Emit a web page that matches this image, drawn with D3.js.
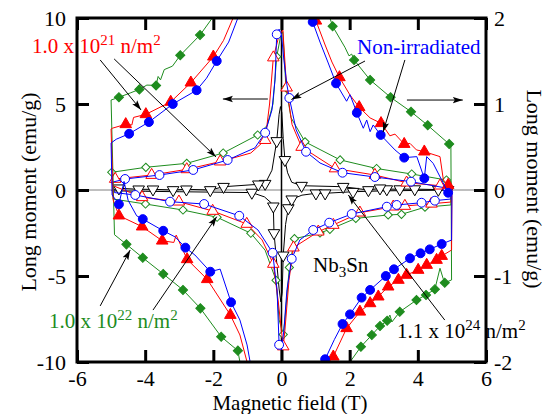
<!DOCTYPE html>
<html>
<head>
<meta charset="utf-8">
<script src="https://cdn.jsdelivr.net/npm/d3@7"></script>
<style>
  body { margin: 0; background: #fff; }
  text { font-family: "Liberation Serif", "Times New Roman", serif; }
</style>
</head>
<body>
<script>
// Hysteresis loops of Nb3Sn.
// Each point is [field (T), moment, marker?]; points are in sweep order.
// Filled-marker loops use the left axis (emu/g, +-10).
const blueFilled = [
  [5.0,-0.3,0],[4.89,-0.16,1],[4.45,1.55,0],[4.26,1.94,0],[4.19,0.68,1],[3.97,1.94,0],[3.60,1.88,1],
  [3.33,2.33,0],[2.91,3.20,1],[2.69,3.78,0],[2.60,3.39,0],[2.50,4.07,0],[2.40,3.59,0],[2.21,4.49,1],
  [2.16,4.77,0],[2.01,5.54,0],[1.91,5.16,0],[1.60,6.20,1],[1.36,7.44,0],[1.13,8.6,0],[0.915,9.77,1],
  [0.75,11.5,0],
  [-1.1,11.5,0],[-1.28,10,0],[-1.55,8.6,0],[-1.90,7.50,1],[-2.2,6.5,0],[-2.49,5.80,1],[-3.19,5.0,1],
  [-3.89,3.95,1],[-4.47,3.27,1],[-4.85,2.95,0],[-5.0,2.73,0],
  [-4.97,-0.29,0],[-4.77,-0.83,1],[-4.62,0.5,0],[-4.5,-0.6,0],[-4.25,-1.5,0],[-4.07,-1.69,1],
  [-3.47,-2.37,1],[-3.12,-2.73,0],[-2.82,-3.35,1],[-2.54,-3.78,0],[-2.09,-4.75,1],[-1.80,-4.6,0],
  [-1.48,-6.53,1],[-1.22,-7.56,0],[-1.01,-9.01,0],[-0.92,-10,0],[-0.85,-11.5,0],
  [1.15,-11.5,0],[1.19,-10,0],[1.28,-9.84,1],[1.55,-8.7,0],[1.79,-7.79,1],[2.01,-7.23,1],[2.35,-6.26,1],
  [2.60,-5.81,1],[3.06,-5.0,1],[3.30,-4.61,1],[3.77,-3.97,1],[4.08,-3.68,1],[4.35,-3.45,1],
  [4.70,-3.14,1],[4.99,-2.91,0],[5.0,-0.3,0]
];
const redFilled = [
  [5.0,0.17,0],[4.89,0.29,1],[4.75,0.58,0],[4.65,1.94,0],[4.19,2.23,1],[3.96,2.33,0],[3.77,2.71,0],
  [3.60,2.67,1],[3.33,3.25,0],[3.18,3.15,0],[3.06,3.5,0],[2.92,3.88,1],[2.60,4.19,0],[2.28,4.81,1],
  [2.01,5.52,0],[1.70,6.55,1],[1.48,7.44,0],[1.28,8.43,0],[1.01,9.84,1],[0.88,11.5,0],
  [-1.25,11.5,0],[-1.42,10,0],[-1.7,8.7,0],[-2.0,7.75,1],[-2.66,6.24,1],[-3.25,5.12,1],[-3.98,4.40,1],
  [-4.34,4.22,0],[-4.39,3.78,0],[-4.57,3.82,1],[-4.95,3.6,0],[-5.0,3.55,0],
  [-4.94,-0.58,0],[-4.77,-1.49,1],[-4.09,-2.13,1],[-3.50,-2.95,1],[-3.16,-3.05,0],[-3.09,-2.62,0],
  [-2.77,-4.03,1],[-2.18,-5.19,1],[-1.50,-7.27,1],[-1.22,-8.43,0],[-1.01,-10,0],[-0.9,-11.5,0],
  [1.3,-11.5,0],[1.39,-10,0],[1.52,-9.69,1],[1.91,-8.04,1],[2.30,-7.08,1],[2.60,-6.59,1],[2.84,-6.20,1],
  [3.13,-5.62,1],[3.43,-5.23,1],[3.67,-4.94,1],[4.01,-4.65,1],[4.26,-4.36,1],[4.55,-4.07,1],
  [4.70,-3.84,1],[4.99,-3.49,0],[5.0,0.17,0]
];
const greenFilled = [
  [4.97,2.56,0],[4.92,2.67,1],[4.29,3.76,1],[3.80,4.55,1],[3.20,5.39,1],[2.60,6.40,1],[2.13,7.56,1],
  [2.06,7.9,0],[1.98,7.8,0],[1.86,8.3,0],[1.50,9.52,1],[1.42,10,0],[1.25,11.5,0],
  [-1.75,11.5,0],[-2.03,10,0],[-2.39,9.01,1],[-2.97,7.83,1],[-3.2,7.2,0],[-3.44,7.0,0],[-3.55,6.4,0],
  [-3.62,6.6,0],[-3.68,6.08,1],[-3.95,6.1,0],[-4.17,5.85,1],[-4.44,5.64,0],[-4.77,5.39,1],[-5.0,5.23,0],
  [-4.9,-2.6,0],[-4.55,-3.16,1],[-4.07,-3.94,1],[-3.47,-4.88,1],[-2.89,-5.81,1],[-2.38,-6.88,1],
  [-1.77,-8.53,1],[-1.28,-9.34,1],[-1.22,-10,0],[-1.1,-11.5,0],
  [1.85,-11.5,0],[2.01,-10,0],[2.33,-9.11,1],[2.65,-8.43,1],[2.89,-7.91,1],[3.10,-7.6,1],[3.18,-7.27,0],
  [3.24,-7.67,0],[3.47,-7.08,1],[3.96,-6.40,1],[4.24,-6.10,1],[4.50,-5.77,1],[4.65,-4.55,0],
  [4.74,-5.13,0],[4.79,-5.39,1],[4.99,-5.23,0],[4.97,2.56,0]
];
// Open-marker loops use the right axis (+-2).
const blueOpen = [
  [4.97,0.01,0],[4.87,0.02,1],[3.80,0.097,1],[2.74,0.151,1],[1.79,0.201,1],[1.13,0.314,0],[0.72,0.445,1],
  [0.43,0.70,0],[0.23,1.07,1],[0.16,1.22,0],[0.07,1.51,0],[0.0,1.80,0],[-0.07,1.87,0],[-0.14,1.81,1],
  [-0.19,1.28,0],[-0.28,0.93,0],[-0.48,0.666,1],[-0.78,0.49,0],[-1.58,0.349,1],[-2.59,0.233,1],
  [-3.58,0.174,1],[-4.59,0.128,1],[-4.97,0.09,0],
  [-4.9,-0.03,0],[-4.29,-0.058,1],[-3.27,-0.136,1],[-2.27,-0.163,1],[-1.24,-0.30,1],[-0.69,-0.465,0],
  [-0.26,-0.73,1],[-0.13,-1.16,0],[-0.07,-1.80,1],[0.0,-1.86,0],[0.07,-1.63,0],[0.16,-1.16,0],
  [0.30,-0.80,1],[0.54,-0.58,0],[0.93,-0.465,1],[1.40,-0.38,1],[2.06,-0.279,1],[3.09,-0.194,1],
  [3.38,-0.174,1],[4.11,-0.148,1],[4.50,-0.124,1],[4.97,-0.105,0],[4.97,0.01,0]
];
const redOpen = [
  [4.97,0.04,0],[4.65,0.05,1],[3.67,0.085,1],[2.74,0.174,1],[1.57,0.25,1],[0.59,0.50,1],[0.31,0.76,0],
  [0.15,1.19,1],[0.04,1.86,0],[-0.07,1.80,0],[-0.24,1.54,1],[-0.35,1.0,0],[-0.48,0.58,1],[-0.9,0.43,0],
  [-1.80,0.33,1],[-2.78,0.24,1],[-3.81,0.174,1],[-4.88,0.128,1],[-4.97,0.12,0],
  [-4.94,0.05,0],[-4.09,-0.085,1],[-3.01,-0.136,1],[-2.02,-0.244,1],[-1.02,-0.395,1],[-0.57,-0.58,0],
  [-0.24,-0.86,1],[-0.10,-1.28,0],[0.05,-1.82,1],[0.10,-1.63,0],[0.22,-1.05,0],[0.35,-0.67,1],
  [1.08,-0.485,1],[1.52,-0.407,1],[2.30,-0.264,1],[3.28,-0.194,1],[3.62,-0.186,1],[4.4,-0.16,1],
  [4.97,-0.14,0],[4.97,0.04,0]
];
const greenOpen = [
  [4.97,0.10,0],[4.84,0.116,1],[3.82,0.186,1],[2.79,0.25,1],[1.72,0.35,1],[0.69,0.56,1],[0.28,0.84,0],
  [0.13,1.19,1],[0.04,1.84,0],[-0.03,1.78,0],[-0.14,1.55,1],[-0.25,1.0,0],[-0.42,0.75,0],[-0.70,0.64,1],
  [-1.71,0.43,1],[-2.78,0.31,1],[-3.98,0.264,1],[-4.98,0.206,1],
  [-4.94,-0.105,0],[-3.99,-0.163,1],[-2.89,-0.233,1],[-1.89,-0.317,1],[-0.90,-0.503,1],[-0.48,-0.70,0],
  [-0.16,-1.05,1],[-0.07,-1.51,0],[0.05,-1.68,1],[0.10,-1.51,0],[0.23,-0.90,1],[0.38,-0.566,1],
  [1.13,-0.50,1],[1.42,-0.457,1],[2.18,-0.33,1],[3.13,-0.29,1],[3.52,-0.283,1],[4.21,-0.20,1],
  [4.97,-0.174,0],[4.97,0.10,0]
];
const blackOpen = [
  [4.97,0.0,0],[4.89,0.0,1],[4.6,0.005,1],[3.91,0.01,1],[3.47,0.01,1],[3.09,0.01,1],[2.89,0.02,1],
  [2.55,0.0,1],[1.81,0.038,1],[0.59,0.05,1],[0.3,0.09,0],[0.18,0.2,0],[0.10,0.35,1],[0.05,0.6,0],
  [0.01,0.9,0],[-0.03,0.97,0],[-0.07,0.88,0],[-0.14,0.57,1],[-0.28,0.23,0],[-0.48,0.073,1],
  [-0.68,0.066,1],[-1.70,0.038,1],[-2.09,0.0,1],[-2.79,0.008,1],[-3.18,0.0,1],[-3.77,0.008,1],
  [-4.19,0.008,1],[-4.77,0.02,1],[-4.97,0.0,0],
  [-4.97,-0.01,0],[-4.0,-0.015,0],[-3.0,-0.02,0],[-2.0,-0.025,0],[-0.87,-0.03,1],[-0.5,-0.08,0],
  [-0.3,-0.15,0],[-0.24,-0.19,1],[-0.22,-0.5,1],[-0.15,-0.8,0],[-0.07,-1.15,0],[-0.02,-1.3,0],
  [0.02,-1.2,0],[0.05,-0.76,1],[0.12,-0.4,0],[0.2,-0.21,1],[0.3,-0.108,1],[0.6,-0.06,0],
  [1.01,-0.038,1],[1.28,-0.038,1],[2.1,-0.02,1],[3.0,-0.01,0],[4.0,-0.005,0],[4.97,0.0,0]
];

const xTicks = [-6, -4, -2, 0, 2, 4, 6];
const yLeftTicks = [-10, -5, 0, 5, 10];
const yRightTicks = [-2, -1, 0, 1, 2];

const blue = '#0000ff', red = '#ff0000', green = '#1e8c1e';

const W = 548, H = 414;
const box = { left: 77, right: 486, top: 18, bottom: 362 };

const svg = d3.select('body').append('svg')
  .attr('width', W).attr('height', H)
  .attr('font-family', '"Liberation Serif", "Times New Roman", serif');

const x = d3.scaleLinear().domain([-6, 6]).range([box.left, box.right]);
const yL = d3.scaleLinear().domain([-10, 10]).range([box.bottom, box.top]);
const yR = d3.scaleLinear().domain([-2, 2]).range([box.bottom, box.top]);

const defs = svg.append('defs');
defs.append('clipPath').attr('id', 'plot')
  .append('rect').attr('x', box.left).attr('y', box.top)
  .attr('width', box.right - box.left).attr('height', box.bottom - box.top);

defs.append('marker')
  .attr('id', 'head').attr('markerUnits', 'userSpaceOnUse')
  .attr('markerWidth', 11).attr('markerHeight', 8)
  .attr('refX', 10).attr('refY', 4).attr('orient', 'auto')
  .append('path').attr('d', 'M0,0.8 L10,4 L0,7.2 L2,4 Z').attr('fill', '#000');

// zero lines
svg.append('line')
  .attr('x1', box.left).attr('x2', box.right).attr('y1', yL(0)).attr('y2', yL(0))
  .attr('stroke', '#808080').attr('stroke-width', 1.2);
svg.append('line')
  .attr('x1', x(0)).attr('x2', x(0)).attr('y1', box.top).attr('y2', box.bottom)
  .attr('stroke', '#000').attr('stroke-width', 1.5);

const series = [
  { data: blackOpen, y: yR, color: '#000', shape: 'triDown', filled: false },
  { data: greenOpen, y: yR, color: green, shape: 'diamond', filled: false },
  { data: redOpen, y: yR, color: red, shape: 'triUp', filled: false },
  { data: blueOpen, y: yR, color: blue, shape: 'circle', filled: false },
  { data: greenFilled, y: yL, color: green, shape: 'diamond', filled: true },
  { data: redFilled, y: yL, color: red, shape: 'triUp', filled: true },
  { data: blueFilled, y: yL, color: blue, shape: 'circle', filled: true },
];

const shapes = {
  circle: { type: d3.symbolCircle, size: 62, rot: 0 },
  triUp: { type: d3.symbolTriangle, size: 58, rot: 0 },
  triDown: { type: d3.symbolTriangle, size: 58, rot: 180 },
  diamond: { type: d3.symbolSquare, size: 34, rot: 45 },
};

const plot = svg.append('g').attr('clip-path', 'url(#plot)');

series.forEach(s => {
  const line = d3.line().x(d => x(d[0])).y(d => s.y(d[1]));
  plot.append('path')
    .attr('d', line(s.data))
    .attr('fill', 'none')
    .attr('stroke', s.color)
    .attr('stroke-width', 1)
    .attr('stroke-linejoin', 'round');

  const sh = shapes[s.shape];
  const sym = d3.symbol().type(sh.type).size(s.filled && s.shape === 'diamond' ? 42 : sh.size);
  plot.selectAll(null)
    .data(s.data.filter(d => d[2]))
    .enter().append('path')
      .attr('d', sym)
      .attr('transform', d => `translate(${x(d[0])},${s.y(d[1])}) rotate(${sh.rot})`)
      .attr('fill', s.filled ? s.color : '#fff')
      .attr('stroke', s.color)
      .attr('stroke-width', 1);
});

// axes with inward ticks
const tickLen = 12;
const plain = d => String(d);
function styleAxis(g) {
  g.attr('font-family', null).attr('font-size', null);
  g.select('.domain').remove();
  g.selectAll('.tick line').attr('stroke', '#000').attr('stroke-width', 3);
  g.selectAll('.tick text')
    .attr('fill', '#000')
    .style('font-size', '22px');
}

svg.append('g')
  .attr('transform', `translate(0,${box.bottom})`)
  .call(d3.axisBottom(x).tickValues(xTicks).tickFormat(plain)
    .tickSizeInner(-tickLen).tickSizeOuter(0).tickPadding(8))
  .call(styleAxis);

svg.append('g')
  .attr('transform', `translate(0,${box.top})`)
  .call(d3.axisTop(x).tickValues(xTicks).tickSizeInner(-tickLen).tickSizeOuter(0).tickFormat(''))
  .call(styleAxis);

svg.append('g')
  .attr('transform', `translate(${box.left},0)`)
  .call(d3.axisLeft(yL).tickValues(yLeftTicks).tickFormat(plain)
    .tickSizeInner(-tickLen).tickSizeOuter(0).tickPadding(11))
  .call(styleAxis);

svg.append('g')
  .attr('transform', `translate(${box.right},0)`)
  .call(d3.axisRight(yR).tickValues(yRightTicks).tickFormat(plain)
    .tickSizeInner(-tickLen).tickSizeOuter(0).tickPadding(8))
  .call(styleAxis);

svg.append('rect')
  .attr('x', box.left).attr('y', box.top)
  .attr('width', box.right - box.left).attr('height', box.bottom - box.top)
  .attr('fill', 'none').attr('stroke', '#000').attr('stroke-width', 3);

// axis titles
svg.append('text')
  .attr('x', 290).attr('y', 409.5)
  .attr('text-anchor', 'middle').style('font-size', '21px')
  .text('Magnetic field (T)');
svg.append('text')
  .attr('transform', 'translate(36,192) rotate(-90)')
  .attr('text-anchor', 'middle').style('font-size', '22px')
  .text('Long moment (emu/g)');
svg.append('text')
  .attr('transform', 'translate(527,189) rotate(90)')
  .attr('text-anchor', 'middle').style('font-size', '22px')
  .text('Long moment (emu/g)');

// arrows, in data units of the left axis
const arrows = [
  [-5.32, 7.56, -4.12, 4.65],
  [-4.91, 7.62, -1.92, 1.92],
  [-0.40, 5.29, -1.72, 5.29],
  [3.68, 5.23, 5.32, 5.23],
  [2.45, 7.5, 0.29, 5.26],
  [3.62, 7.56, 2.98, 3.37],
  [-5.32, -6.74, -4.44, -3.49],
  [-3.77, -6.98, -1.90, -1.55],
  [4.79, -7.56, 1.96, -0.29],
];
svg.selectAll(null).data(arrows).enter().append('line')
  .attr('x1', d => x(d[0])).attr('y1', d => yL(d[1]))
  .attr('x2', d => x(d[2])).attr('y2', d => yL(d[3]))
  .attr('stroke', '#000').attr('stroke-width', 1)
  .attr('marker-end', 'url(#head)');

// annotations: [x, y, colour, parts]  parts: [text, 'n'|'sup'|'sub']
const notes = [
  [32, 53, red, [['1.0 x 10', 'n'], ['21', 'sup'], [' n/m', 'n'], ['2', 'sup']]],
  [357, 54, blue, [['Non-irradiated', 'n']]],
  [49, 328, green, [['1.0 x 10', 'n'], ['22', 'sup'], [' n/m', 'n'], ['2', 'sup']]],
  [313, 272, '#000', [['Nb', 'n'], ['3', 'sub'], ['Sn', 'n']]],
  [397, 338, '#000', [['1.1 x 10', 'n'], ['24', 'sup'], [' n/m', 'n'], ['2', 'sup']]],
];
notes.forEach(([nx, ny, col, parts]) => {
  const t = svg.append('text').attr('x', nx).attr('y', ny)
    .attr('fill', col).style('font-size', '21px');
  let shift = 0;
  parts.forEach(([s, kind]) => {
    const target = kind === 'sup' ? -8 : kind === 'sub' ? 5 : 0;
    t.append('tspan')
      .attr('dy', target - shift)
      .style('font-size', kind === 'n' ? '21px' : '15px')
      .text(s);
    shift = target;
  });
});
</script>
</body>
</html>
